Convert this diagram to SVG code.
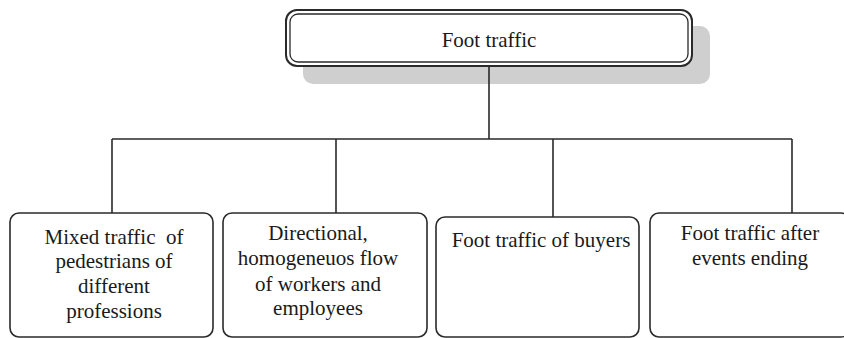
<svg xmlns="http://www.w3.org/2000/svg" width="844" height="338" viewBox="0 0 844 338">
<rect width="844" height="338" fill="#fff"/>
<g id="root">
<rect x="303" y="26" width="407" height="58" rx="10" fill="#cfcfcf"/>
<rect x="286" y="10" width="406" height="56" rx="11" fill="#fff" stroke="#2a2a2a" stroke-width="2"/>
<rect x="290" y="14" width="398" height="48" rx="8" fill="#fff" stroke="#2a2a2a" stroke-width="1.3"/>
<text x="489" y="47" font-family="Liberation Serif" font-size="21" fill="#1a1a1a" text-anchor="middle">Foot traffic</text>
</g>
<g id="connectors" fill="none" stroke="#2a2a2a" stroke-width="1.6">
<path d="M489 66V139M112 139H792M112 139V213M336 139V213M553 139V217M792 139V213"/>
</g>
<g id="n1">
<rect x="10" y="213" width="203" height="124" rx="9" fill="#fff" stroke="#2a2a2a" stroke-width="1.6"/>
<text x="114" y="244" font-family="Liberation Serif" font-size="21" fill="#1a1a1a" text-anchor="middle" xml:space="preserve">Mixed traffic  of</text>
<text x="114" y="268" font-family="Liberation Serif" font-size="21" fill="#1a1a1a" text-anchor="middle">pedestrians of</text>
<text x="114" y="293" font-family="Liberation Serif" font-size="21" fill="#1a1a1a" text-anchor="middle">different</text>
<text x="114" y="318" font-family="Liberation Serif" font-size="21" fill="#1a1a1a" text-anchor="middle">professions</text>
</g>
<g id="n2">
<rect x="223" y="213" width="204" height="124" rx="9" fill="#fff" stroke="#2a2a2a" stroke-width="1.6"/>
<text x="318" y="240" font-family="Liberation Serif" font-size="21" fill="#1a1a1a" text-anchor="middle">Directional,</text>
<text x="318" y="265" font-family="Liberation Serif" font-size="21" fill="#1a1a1a" text-anchor="middle">homogeneuos flow</text>
<text x="318" y="291" font-family="Liberation Serif" font-size="21" fill="#1a1a1a" text-anchor="middle">of workers and</text>
<text x="318" y="315" font-family="Liberation Serif" font-size="21" fill="#1a1a1a" text-anchor="middle">employees</text>
</g>
<g id="n3">
<rect x="436" y="217" width="203" height="120" rx="9" fill="#fff" stroke="#2a2a2a" stroke-width="1.6"/>
<text x="541" y="247" font-family="Liberation Serif" font-size="21" fill="#1a1a1a" text-anchor="middle">Foot traffic of buyers</text>
</g>
<g id="n4">
<rect x="650" y="213" width="200" height="124" rx="9" fill="#fff" stroke="#2a2a2a" stroke-width="1.6"/>
<text x="750" y="240" font-family="Liberation Serif" font-size="21" fill="#1a1a1a" text-anchor="middle">Foot traffic after</text>
<text x="750" y="265" font-family="Liberation Serif" font-size="21" fill="#1a1a1a" text-anchor="middle">events ending</text>
</g>
</svg>
